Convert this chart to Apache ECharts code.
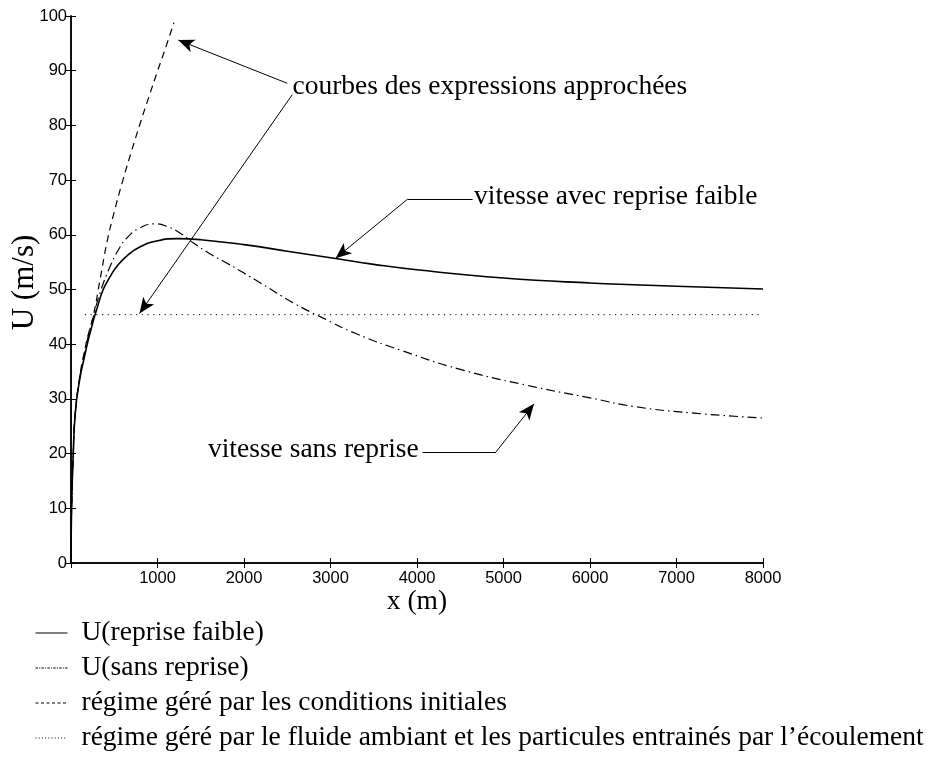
<!DOCTYPE html>
<html>
<head>
<meta charset="utf-8">
<script src="https://cdn.jsdelivr.net/npm/echarts@6/dist/echarts.min.js"></script>
<style>
  html, body { margin: 0; padding: 0; background: #fff; }
  #chart { width: 929px; height: 761px; }
</style>
</head>
<body>
<div id="chart"></div>
<script>
// U(reprise faible) - trait plein
const xSolid = [0, 3, 10, 25, 50, 100, 150, 200, 260, 300, 370, 450, 530, 650, 800, 1000, 1225, 1500, 2000, 2500, 3000, 3500, 4000, 5000, 6000, 7000, 8000];
const uSolid = [0, 6, 12, 19.5, 27.5, 33.5, 37.3, 40.8, 44.4, 46.5, 49.9, 52.3, 54.2, 56.2, 57.8, 58.9, 59.3, 59.1, 58.2, 57.0, 55.8, 54.6, 53.6, 52.1, 51.2, 50.6, 50.1];

// U(sans reprise) - trait mixte
const xSans = [0, 3, 10, 25, 50, 100, 150, 200, 258, 336, 452, 550, 645, 800, 973, 1100, 1263, 1417, 1600, 1804, 2000, 2190, 2576, 2885, 3300, 3812, 4500, 5355, 6000, 6513, 7200, 8000];
const uSans = [0, 6, 12, 19.5, 27.5, 33.8, 37.8, 41.5, 45, 49.4, 54.2, 57.3, 59.4, 61.3, 62, 61.6, 60.3, 58.5, 56.6, 54.8, 53, 51.2, 47.5, 45, 41.9, 38.9, 35.4, 32.2, 30.2, 28.6, 27.4, 26.5];

// regime gere par les conditions initiales - tirets
const xInit = [0, 3, 10, 25, 50, 100, 150, 200, 258, 336, 414, 500, 600, 700, 800, 900, 1000, 1100, 1190];
const uInit = [0, 6, 12, 19.5, 27.5, 34, 38.3, 41.8, 45.2, 51.8, 58.5, 64.2, 70, 75.3, 80.4, 85.2, 89.9, 94.5, 98.8];

// regime gere par le fluide ambiant - pointilles
const xAmb = [160, 8000];
const uAmb = [45.4, 45.4];

const names = [
    'U(reprise faible)',
    'U(sans reprise)',
    'régime géré par les conditions initiales',
    'régime géré par le fluide ambiant et les particules entrainés par l’écoulement'
];

// annotations (coordonnees en unites des axes)
const txtCourbes = [2560, 87];
const txtAvec = [4660, 66.9];
const txtSans = [4020, 20.7];
const arrowsCourbes = [[[2500, 87.7], [1240, 95.6]], [[2557, 85.6], [792, 45.6]]];
const kinkAvec = [[4643, 66.5], [3890, 66.5], [3059, 55.7]];
const kinkSans = [[4064, 20.3], [4913, 20.3], [5353, 29.1]];

const serif = 'Liberation Serif';
const sans = 'Liberation Sans';

function pairs(xs, ys) {
    return xs.map((x, i) => [x, ys[i]]);
}

function seg(a, b, arrow) {
    return [
        {coord: a, symbol: 'none'},
        {coord: b, symbol: arrow ? 'arrow' : 'none'}
    ];
}

let myChart = echarts.init(document.getElementById('chart'));

const axisLineStyle = {color: '#000', width: 1.5};

myChart.setOption({
    animation: false,
    backgroundColor: '#fff',
    grid: {left: 71, right: 166, top: 16, bottom: 198, outerBoundsMode: 'none', containLabel: false},
    legend: {
        // petits motifs dans la legende, comme sur la figure
        data: [
            {name: names[0], lineStyle: {type: 'solid', width: 1}},
            {name: names[1], lineStyle: {type: [2.5, 1.2, 1, 1.2], width: 1}},
            {name: names[2], lineStyle: {type: [3, 2.5], width: 1}},
            {name: names[3], lineStyle: {type: [1, 2.2], width: 1}}
        ],
        orient: 'vertical',
        left: 35,
        top: 618,
        padding: 0,
        itemWidth: 32,
        itemHeight: 14,
        itemGap: 5,
        itemStyle: {color: 'transparent', borderColor: 'transparent', borderWidth: 0},
        lineStyle: {width: 1},
        textStyle: {
            fontFamily: serif,
            fontSize: 27.5,
            color: '#000',
            lineHeight: 30,
            padding: [0, 0, 0, 9]
        }
    },
    xAxis: [{
        type: 'value',
        min: 0,
        max: 8000,
        interval: 1000,
        name: 'x (m)',
        nameLocation: 'middle',
        nameGap: 25,
        nameMoveOverlap: false,
        nameTextStyle: {fontFamily: serif, fontSize: 27.5, color: '#000'},
        axisLine: {lineStyle: axisLineStyle},
        axisTick: {inside: true, length: 5, lineStyle: {color: '#000'}},
        axisLabel: {
            fontFamily: sans, fontSize: 16.5, color: '#000', margin: 7,
            formatter: v => v === 0 ? '' : String(v)
        },
        splitLine: {show: false}
    }, {
        type: 'value',
        position: 'top',
        min: 0,
        max: 8000,
        interval: 1000,
        axisLine: {lineStyle: axisLineStyle},
        axisTick: {inside: true, length: 5, lineStyle: {color: '#000'}},
        axisLabel: {show: false},
        splitLine: {show: false}
    }],
    yAxis: [{
        type: 'value',
        min: 0,
        max: 100,
        interval: 10,
        name: 'U (m/s)',
        nameLocation: 'middle',
        nameRotate: 90,
        nameGap: 31,
        nameMoveOverlap: false,
        nameTextStyle: {fontFamily: serif, fontSize: 31, color: '#000', padding: [0, 0, 0, 14]},
        axisLine: {show: true, lineStyle: axisLineStyle},
        axisTick: {show: true, inside: true, length: 5, lineStyle: {color: '#000'}},
        axisLabel: {fontFamily: sans, fontSize: 16.5, color: '#000', margin: 4},
        splitLine: {show: false}
    }, {
        type: 'value',
        position: 'right',
        min: 0,
        max: 100,
        interval: 10,
        axisLine: {show: true, lineStyle: axisLineStyle},
        axisTick: {show: true, inside: true, length: 5, lineStyle: {color: '#000'}},
        axisLabel: {show: false},
        splitLine: {show: false}
    }],
    series: [{
        name: names[0],
        type: 'line',
        smooth: true,
        symbol: 'none',
        data: pairs(xSolid, uSolid),
        lineStyle: {color: '#000', width: 1.6, type: 'solid'},
        itemStyle: {color: '#000'},
        markLine: {
            silent: true,
            symbolSize: [10, 16],
            label: {show: false},
            lineStyle: {color: '#000', width: 1, type: 'solid'},
            data: [
                seg(arrowsCourbes[0][0], arrowsCourbes[0][1], true),
                seg(arrowsCourbes[1][0], arrowsCourbes[1][1], true),
                seg(kinkAvec[0], kinkAvec[1], false),
                seg(kinkAvec[1], kinkAvec[2], true),
                seg(kinkSans[0], kinkSans[1], false),
                seg(kinkSans[1], kinkSans[2], true)
            ]
        },
        markPoint: {
            silent: true,
            symbol: 'circle',
            symbolSize: 0,
            label: {
                show: true,
                formatter: '{b}',
                fontFamily: serif,
                fontSize: 27.5,
                color: '#000',
                distance: 0
            },
            data: [
                {name: 'courbes des expressions approchées', coord: txtCourbes, label: {position: 'right'}},
                {name: 'vitesse avec reprise faible', coord: txtAvec, label: {position: 'right'}},
                {name: 'vitesse sans reprise', coord: txtSans, label: {position: 'left'}}
            ]
        }
    }, {
        name: names[1],
        type: 'line',
        smooth: true,
        symbol: 'none',
        data: pairs(xSans, uSans),
        lineStyle: {color: '#000', width: 1.2, type: [9, 4, 1.5, 4]},
        itemStyle: {color: '#000'}
    }, {
        name: names[2],
        type: 'line',
        smooth: true,
        symbol: 'none',
        data: pairs(xInit, uInit),
        lineStyle: {color: '#000', width: 1.2, type: [7, 5]},
        itemStyle: {color: '#000'}
    }, {
        name: names[3],
        type: 'line',
        symbol: 'none',
        data: pairs(xAmb, uAmb),
        lineStyle: {color: '#000', width: 1, type: [1.2, 4.5]},
        itemStyle: {color: '#000'}
    }]
});
</script>
</body>
</html>
